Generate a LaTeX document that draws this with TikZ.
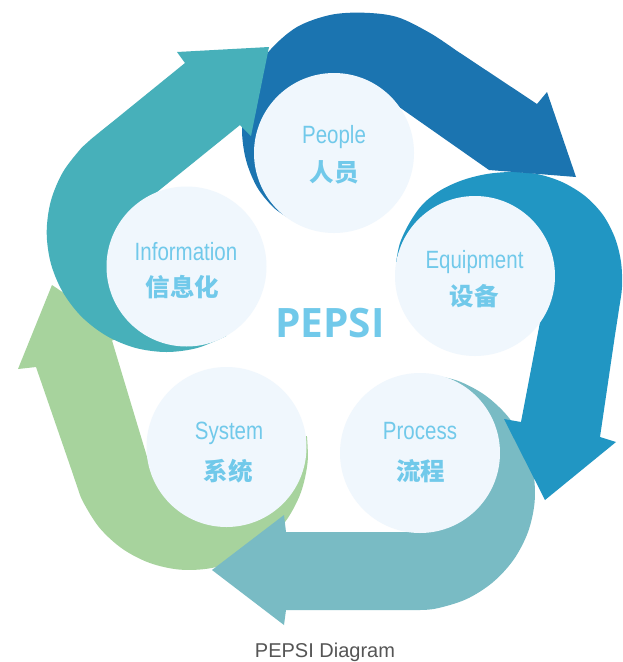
\documentclass[tikz,border=0pt]{standalone}
\usepackage{fontspec}
\setmainfont{Liberation Sans}
\newfontfamily\latinlab[FakeStretch=0.82]{Liberation Sans}
\newfontfamily\cjk{Noto Sans CJK SC}
\newfontfamily\titlefont{Open Sans}
\definecolor{arrA}{HTML}{1B74B0}
\definecolor{arrB}{HTML}{2196C3}
\definecolor{arrC}{HTML}{79BBC4}
\definecolor{arrD}{HTML}{A7D39D}
\definecolor{arrE}{HTML}{47B0BA}
\definecolor{circfill}{HTML}{F0F7FD}
\definecolor{labcol}{HTML}{71C9EA}
\definecolor{capcol}{HTML}{555555}
\tikzset{
  stage/.style={circle, fill=circfill, minimum size=160pt, inner sep=0pt},
  enlab/.style={anchor=base, text=labcol, inner sep=0pt, font=\latinlab\fontsize{25}{25}\selectfont},
  zhlab/.style={anchor=base, text=labcol, inner sep=0pt, font=\cjk\bfseries\fontsize{24.5}{25}\selectfont},
  curve/.style={smooth, tension=0.55}
}
\begin{document}
\begin{tikzpicture}[x=1pt,y=-1pt]
\fill[white] (0,0) rectangle (623,662);
\useasboundingbox (0,0) rectangle (623,662);
% circle centres
\coordinate (cPeople) at (334,153);
\coordinate (cEquip) at (475,276);
\coordinate (cProc) at (420,453);
\coordinate (cSys) at (226.5,447);
\coordinate (cInfo) at (186.5,266.5);
% D: green arrow around System
\fill[arrD] (cSys) -- plot[curve] coordinates {(306.9,436) (307.6,462.3) (300.9,492.4) (286.7,519.7) (265.9,542.4) (239.9,559.0) (210.5,568.2) (179.7,569.6) (149.6,562.9) (122.3,548.7) (99.6,527.9) (83.1,501.9) (77.1,486.3) (70.5,467)}
  -- (36,367) -- (18,369) -- (52,285) -- (127,336) -- (112,340.5) -- (151,470) -- cycle;
% C: pale teal arrow around Process
\fill[arrC] (cProc) -- plot[curve] coordinates {(427.0,374.0) (457.2,380.6) (484.6,394.9) (507.3,415.8) (523.9,441.8) (533.2,471.3) (534.6,502.1) (527.9,532.3) (513.6,559.7) (492.7,582.4) (466.7,599.0) (437.2,608.3) (416.7,610.1) (386,610)}
  -- (286,610) -- (284,625) -- (212,570) -- (284,515) -- (286,532) -- (420,532) -- cycle;
% B: medium blue arrow around Equipment
\fill[arrB] (cEquip) -- plot[curve] coordinates {(396,263) (400,243) (410,222) (423,204) (441,190) (463,180) (487,174) (512,172) (537,174) (562,182) (585,196) (603,215) (615,238) (621,262) (622,287) (619,309) (615,335)}
  -- (600,437) -- (616,442) -- (545,500) -- (504,419) -- (521,422) -- (541,317) -- cycle;
% A: dark blue arrow around People
\fill[arrA] (cPeople) -- plot[curve] coordinates {(287,217) (273,207) (257,187) (246,160) (242,130) (246,100) (256,72) (271,49) (297,27) (330,15) (363,12.7) (397,17) (430,33) (455,49.6)}
  -- (537,104) -- (547,92) -- (576,177) -- (489,170) -- (392,102) -- cycle;
% E: teal arrow around Information
\fill[arrE] (cInfo) -- plot[curve] coordinates {(226.4,335.9) (197.5,347.9) (166.5,352.0) (135.5,347.9) (106.6,335.9) (81.8,316.9) (62.8,292.1) (50.8,263.2) (46.7,232.2) (50.8,201.2) (62.8,172.3) (81.8,147.5) (91.1,139.1) (114,120.6)}
  -- (185,63) -- (177,52) -- (269,47) -- (251,136) -- (240,125) -- (150.6,197.2) -- cycle;
% circles
\node[stage] (people) at (cPeople) {};
\node[stage] (equip) at (cEquip) {};
\node[stage] (proc) at (cProc) {};
\node[stage] (sys) at (cSys) {};
\node[stage] (info) at (cInfo) {};
% labels
\node[enlab] (peopleEn) at (334,143) {People};
\node[zhlab] (peopleZh) at (334,181) {人员};
\node[enlab] (equipEn) at (474.5,268) {Equipment};
\node[zhlab] (equipZh) at (474,305.5) {设备};
\node[enlab] (procEn) at (420,439) {Process};
\node[zhlab] (procZh) at (420.5,480.5) {流程};
\node[enlab] (sysEn) at (229,439) {System};
\node[zhlab] (sysZh) at (228,480) {系统};
\node[enlab] (infoEn) at (186,260) {Information};
\node[zhlab] (infoZh) at (182.5,296.5) {信息化};
\node[anchor=base, text=labcol, inner sep=0pt, font=\titlefont\bfseries\fontsize{40.5}{40}\selectfont] (title) at (330,337) {PEPSI};
\node[anchor=base, text=capcol, inner sep=0pt, font=\fontsize{20}{20}\selectfont] (caption) at (325,657) {PEPSI Diagram};
\end{tikzpicture}
\end{document}
